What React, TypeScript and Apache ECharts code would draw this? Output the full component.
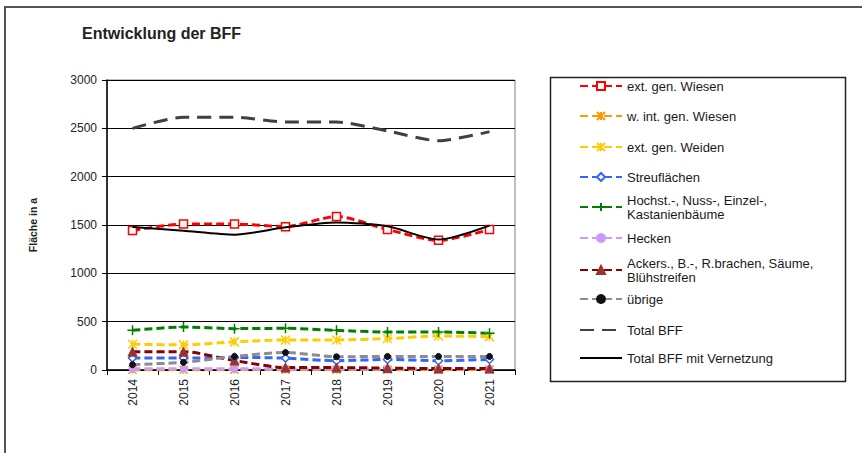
import React, { useEffect, useRef } from "react";
import * as echarts from "echarts";

const years = ["2014", "2015", "2016", "2017", "2018", "2019", "2020", "2021"];
const extGenWiesen = [1443, 1510, 1510, 1483, 1588, 1453, 1341, 1453];
const wIntGenWiesen = [3, 3, 4, 4, 4, 4, 4, 4];
const extGenWeiden = [267, 260, 291, 311, 311, 325, 352, 345];
const streuflaechen = [123, 123, 130, 123, 96, 109, 96, 109];
const hochstamm = [410, 445, 428, 431, 410, 393, 393, 380];
const hecken = [12, 12, 12, 12, 12, 12, 12, 12];
const ackers = [190, 190, 98, 25, 25, 20, 15, 15];
const uebrige = [55, 79, 140, 181, 137, 140, 140, 140];
const totalBFF = [2500, 2615, 2615, 2565, 2565, 2473, 2372, 2466];
const totalVernetzung = [1480, 1440, 1400, 1476, 1527, 1486, 1350, 1493];

const seriesNames = [
  "ext. gen. Wiesen",
  "w. int. gen. Wiesen",
  "ext. gen. Weiden",
  "Streuflächen",
  "Hochst.-, Nuss-, Einzel-, Kastanienbäume",
  "Hecken",
  "Ackers., B.-, R.brachen, Säume, Blühstreifen",
  "übrige",
  "Total BFF",
  "Total BFF mit Vernetzung",
];
const legendLabels = [
  "ext. gen. Wiesen",
  "w. int. gen. Wiesen",
  "ext. gen. Weiden",
  "Streuflächen",
  "Hochst.-, Nuss-, Einzel-,\nKastanienbäume",
  "Hecken",
  "Ackers., B.-, R.brachen, Säume,\nBlühstreifen",
  "übrige",
  "Total BFF",
  "Total BFF mit Vernetzung",
];
const legendCenters = [86, 116, 147, 177, 207, 238, 270, 299, 330, 358];

const FONT = "'Liberation Sans', Arial, sans-serif";
const STAR = "path://M0,0 L10,10 M10,0 L0,10 M5,0 L5,10";
const PLUS = "path://M0,5 L10,5 M5,0 L5,10";

export default function App() {
  const ref = useRef<HTMLDivElement>(null);
  useEffect(() => {
    if (!ref.current) return;
    const chart = echarts.init(ref.current, null, { renderer: "svg" });
    const dashed = (color: string, width = 3, type: any = [8, 4]) => ({ color, width, type });
    const mk = (
      name: string,
      data: number[],
      symbol: string,
      symbolSize: number,
      item: any,
      line: any,
      z = 2
    ) => ({
      name,
      type: "line",
      data,
      smooth: 0.25,
      symbol,
      symbolSize,
      showSymbol: symbol !== "none",
      itemStyle: item,
      lineStyle: line,
      z,
      emphasis: { disabled: true },
    });
    const series = [
      mk(seriesNames[0], extGenWiesen, "rect", 8,
        { color: "#ffffff", borderColor: "#ff0000", borderWidth: 1.5 }, dashed("#ff0000")),
      mk(seriesNames[1], wIntGenWiesen, STAR, 8,
        { color: "#ff9900", borderColor: "#ff9900", borderWidth: 1.5 }, dashed("#ff9900")),
      mk(seriesNames[2], extGenWeiden, STAR, 9,
        { color: "#ffcc00", borderColor: "#ffcc00", borderWidth: 1.5 }, dashed("#ffcc00")),
      mk(seriesNames[3], streuflaechen, "diamond", 8,
        { color: "#ffffff", borderColor: "#3366ff", borderWidth: 1.5 }, dashed("#3366ff")),
      mk(seriesNames[4], hochstamm, PLUS, 10,
        { color: "#008000", borderColor: "#008000", borderWidth: 1.5 }, dashed("#008000")),
      mk(seriesNames[5], hecken, "circle", 7,
        { color: "#cc99ff", borderColor: "#cc99ff", borderWidth: 1 }, dashed("#cc99ff")),
      mk(seriesNames[6], ackers, "triangle", 9,
        { color: "#993333", borderColor: "#993333", borderWidth: 1 }, dashed("#8b0000")),
      mk(seriesNames[7], uebrige, "circle", 6,
        { color: "#111111", borderColor: "#111111", borderWidth: 1 }, dashed("#8c8c8c")),
      mk(seriesNames[8], totalBFF, "none", 0,
        { color: "#404040" }, dashed("#404040", 3, [14, 8]), 3),
      mk(seriesNames[9], totalVernetzung, "none", 0,
        { color: "#000000" }, { color: "#000000", width: 2, type: "solid" }, 3),
    ];
    const legends = seriesNames.map((n, i) => {
      const two = legendLabels[i].includes("\n");
      const lg: any = {
        data: [n],
        orient: "vertical",
        left: 579,
        top: two ? legendCenters[i] - 7 - 14 : legendCenters[i] - 7,
        padding: 0,
        itemWidth: 42,
        itemHeight: 10,
        itemGap: 0,
        selectedMode: false,
        formatter: () => legendLabels[i],
        textStyle: {
          fontFamily: FONT,
          fontSize: 13,
          color: "#1a1a1a",
          lineHeight: 14,
          padding: two ? [14, 0, 0, 0] : 0,
        },
      };
      if (i >= 8) lg.itemStyle = { opacity: 0 };
      return lg;
    });
    chart.setOption({
      animation: false,
      backgroundColor: "#ffffff",
      title: {
        text: "Entwicklung der BFF",
        left: 82,
        top: 25,
        padding: 0,
        textStyle: { fontFamily: FONT, fontSize: 16, fontWeight: "bold", color: "#222222" },
      },
      legend: legends,
      grid: {
        left: 107,
        right: 347,
        top: 80,
        bottom: 83,
        show: true,
        borderColor: "#808080",
        borderWidth: 1,
        backgroundColor: "#ffffff",
      },
      xAxis: {
        type: "category",
        data: years,
        boundaryGap: true,
        axisLine: { lineStyle: { color: "#000000", width: 1.5 } },
        axisTick: { show: true, length: 5, alignWithLabel: false, lineStyle: { color: "#000000" } },
        axisLabel: { rotate: 90, margin: 9, fontFamily: FONT, fontSize: 12, color: "#222222" },
        splitLine: { show: false },
      },
      yAxis: {
        type: "value",
        min: 0,
        max: 3000,
        interval: 500,
        name: "Fläche in a",
        nameLocation: "middle",
        nameRotate: 90,
        nameGap: 69,
        nameTextStyle: { fontFamily: FONT, fontSize: 10.5, fontWeight: "bold", color: "#222222" },
        axisLine: { show: true, lineStyle: { color: "#000000", width: 1.5 } },
        axisTick: { show: true, length: 5, lineStyle: { color: "#000000" } },
        axisLabel: {
          margin: 10,
          fontFamily: FONT,
          fontSize: 12,
          color: "#222222",
          formatter: (v: number) => String(v),
        },
        splitLine: { show: true, lineStyle: { color: "#000000", width: 1.2 } },
      },
      graphic: [
        {
          type: "rect",
          shape: { x: 5, y: 7, width: 900, height: 500 },
          style: { fill: "none", stroke: "#555555", lineWidth: 2 },
          silent: true,
        },
        {
          type: "rect",
          shape: { x: 550.5, y: 77.5, width: 295, height: 304 },
          style: { fill: "none", stroke: "#222222", lineWidth: 1.5 },
          silent: true,
        },
      ],
      series,
    });
    return () => chart.dispose();
  }, []);
  return (
    <div
      ref={ref}
      style={{ position: "absolute", left: 0, top: 0, width: 862, height: 453 }}
    />
  );
}
